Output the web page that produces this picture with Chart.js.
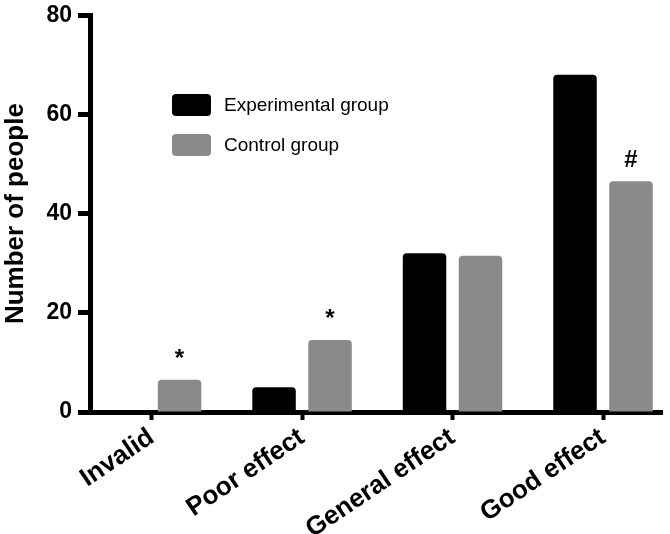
<!DOCTYPE html>
<html>
<head>
<meta charset="utf-8">
<script src="https://cdn.jsdelivr.net/npm/chart.js@4.4.0/dist/chart.umd.min.js"></script>
<style>
  html, body { margin: 0; padding: 0; background: #fff; }
</style>
</head>
<body>
<canvas id="chart" width="670" height="534"></canvas>
<script>
// values
const categories = ['Invalid', 'Poor effect', 'General effect', 'Good effect'];
const experimental = [0, 5, 32, 68];
const control = [6.5, 14.5, 31.5, 46.5];
const controlMarks = ['*', '*', '', '#'];
const yTicks = [0, 20, 40, 60, 80];

const FONT = "'Liberation Sans', Arial, Helvetica, sans-serif";

// significance marks over the control bars + the legend inside the plot
const extrasPlugin = {
    id: 'extras',
    afterDatasetsDraw(chart) {
        const ctx = chart.ctx;
        ctx.save();

        const meta = chart.getDatasetMeta(1);
        ctx.fillStyle = '#000';
        ctx.textAlign = 'center';
        ctx.textBaseline = 'alphabetic';
        ctx.font = 'bold 24px ' + FONT;
        meta.data.forEach((bar, i) => {
            if (controlMarks[i]) ctx.fillText(controlMarks[i], bar.x, bar.y - 14);
        });

        // legend
        const box = { x: 172, y: 94, w: 39, h: 22, gap: 40, textX: 224 };
        chart.data.datasets.forEach((ds, i) => {
            const y = box.y + i * box.gap;
            ctx.fillStyle = ds.backgroundColor;
            ctx.beginPath();
            if (ctx.roundRect) ctx.roundRect(box.x, y, box.w, box.h, 4);
            else ctx.rect(box.x, y, box.w, box.h);
            ctx.fill();
            ctx.fillStyle = '#000';
            ctx.font = '19px ' + FONT;
            ctx.textAlign = 'left';
            ctx.textBaseline = 'middle';
            ctx.fillText(ds.label, box.textX, y + box.h / 2 + 1);
        });
        ctx.restore();
    }
};

const ctx = document.getElementById('chart').getContext('2d');
new Chart(ctx, {
    type: 'bar',
    data: {
        datasets: [{
            label: 'Experimental group',
            data: experimental.map((v, i) => ({ x: i, y: v })),
            backgroundColor: '#000000',
            borderRadius: 4,
            categoryPercentage: 0.744,
            barPercentage: 0.777
        }, {
            label: 'Control group',
            data: control.map((v, i) => ({ x: i, y: v })),
            backgroundColor: '#8a8a8a',
            borderRadius: 4,
            categoryPercentage: 0.744,
            barPercentage: 0.777
        }]
    },
    options: {
        responsive: false,
        animation: false,
        layout: { padding: { top: 14, right: 8, bottom: 0, left: 0 } },
        plugins: {
            legend: { display: false },
            tooltip: { enabled: false }
        },
        scales: {
            x: {
                type: 'linear',
                offset: false,
                min: -0.409,
                max: 3.392,
                afterBuildTicks: s => { s.ticks = categories.map((c, i) => ({ value: i })); },
                afterFit: s => { s.height = 122; },
                grid: { offset: false, drawOnChartArea: false, tickLength: 8, tickWidth: 4, tickColor: '#000' },
                border: { display: true, width: 5, color: '#000' },
                ticks: {
                    autoSkip: false,
                    minRotation: 34,
                    maxRotation: 34,
                    padding: 2,
                    color: '#000',
                    font: { family: FONT, size: 26, weight: 'bold' },
                    callback: v => categories[v]
                }
            },
            y: {
                min: 0,
                max: 80,
                afterBuildTicks: s => { s.ticks = yTicks.map(v => ({ value: v })); },
                afterFit: s => { s.width = 90; },
                grid: { drawOnChartArea: false, tickLength: 12, tickWidth: 5, tickColor: '#000' },
                border: { display: true, width: 5, color: '#000' },
                ticks: {
                    padding: 6,
                    color: '#000',
                    font: { family: FONT, size: 23, weight: 'bold', lineHeight: 0.8 }
                },
                title: {
                    display: true,
                    text: 'Number of people',
                    color: '#000',
                    font: { family: FONT, size: 26, weight: 'bold' },
                    padding: { top: 0, bottom: 0 }
                }
            }
        }
    },
    plugins: [extrasPlugin]
});
</script>
</body>
</html>
